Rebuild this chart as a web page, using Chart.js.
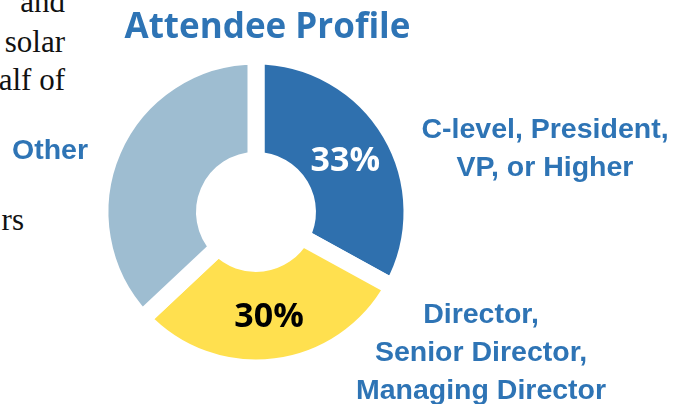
<!DOCTYPE html>
<html>
<head>
<meta charset="utf-8">
<title>Attendee Profile</title>
<script src="https://cdn.jsdelivr.net/npm/chart.js@4.4.1/dist/chart.umd.min.js"></script>
<style>
  html, body { margin: 0; padding: 0; background: #fff; }
  #wrap { position: relative; width: 675px; height: 404px; overflow: hidden; }
  #chart { position: absolute; left: 0; top: 0; }
  .body-txt {
    position: absolute; font-family: "Liberation Serif", serif; font-size: 31px;
    line-height: 31px; color: #111; white-space: nowrap; text-align: right;
  }
  .cat {
    position: absolute; font-family: "Liberation Sans", Arial, sans-serif; font-weight: bold;
    font-size: 28.5px; line-height: 38px; color: #2E74B5; text-align: center; white-space: nowrap;
  }
  #title {
    position: absolute; left: 0; width: 535px; top: 7px; text-align: center;
    font-family: "Open Sans", sans-serif; font-weight: bold; font-size: 35px; line-height: 35px;
    color: #2E74B5; white-space: nowrap;
  }
</style>
</head>
<body>
<div id="wrap">
  <!-- fragments of the surrounding page text -->
  <div class="body-txt" style="right:610px; top:-14px;">and</div>
  <div class="body-txt" style="right:610px; top:26px;">solar</div>
  <div class="body-txt" style="right:610px; top:64px;">alf of</div>
  <div class="body-txt" style="right:651px; top:204px;">rs</div>

  <canvas id="chart" width="675" height="404"></canvas>

  <div id="title">Attendee Profile</div>
  <div class="cat" id="lab0" style="left:395px; width:300px; top:109px;"></div>
  <div class="cat" id="lab1" style="left:331px; width:300px; top:294px;"></div>
  <div class="cat" id="lab2" style="left:0px; width:100px; top:130px;"></div>
</div>

<script>
// ── data ─────────────────────────────────────────
var categories = ['C-level, President, VP, or Higher', 'Director, Senior Director, Managing Director', 'Other'];
var labelLines = [
  ['C-level, President,', 'VP, or Higher'],
  ['Director,', 'Senior Director,', 'Managing Director'],
  ['Other']
];
var values = [33, 30, 37];
var sliceColors = ['#2F70AE', '#FFE04F', '#9EBDD1'];
var pctShown = [true, true, false];
var pctColors = ['#ffffff', '#000000', '#ffffff'];

// category labels
labelLines.forEach(function (lines, i) {
  document.getElementById('lab' + i).innerHTML = lines.join('<br>');
});

// percentages drawn at the middle of each slice
var pctLabels = {
  id: 'pctLabels',
  afterDatasetsDraw: function (chart) {
    var ctx = chart.ctx;
    var arcs = chart.getDatasetMeta(0).data;
    ctx.save();
    ctx.font = 'bold 34px "Open Sans"';
    ctx.textAlign = 'center';
    ctx.textBaseline = 'alphabetic';
    arcs.forEach(function (arc, i) {
      if (!pctShown[i]) return;
      var p = arc.tooltipPosition();
      ctx.fillStyle = pctColors[i];
      ctx.fillText(values[i] + '%', p.x, p.y + 12);
    });
    ctx.restore();
  }
};

new Chart(document.getElementById('chart'), {
  type: 'doughnut',
  data: {
    labels: categories,
    datasets: [{
      data: values,
      backgroundColor: sliceColors,
      borderColor: '#ffffff',
      borderWidth: 17,
      borderJoinStyle: 'miter',
      hoverOffset: 0,
      offset: 0
    }]
  },
  options: {
    responsive: false,
    animation: false,
    events: [],
    radius: 156,
    cutout: '33%',
    layout: { padding: { left: 0, right: 163, top: 20, bottom: 0 } },
    plugins: {
      legend: { display: false },
      tooltip: { enabled: false },
      title: { display: false }
    }
  },
  plugins: [pctLabels]
});
</script>
</body>
</html>
